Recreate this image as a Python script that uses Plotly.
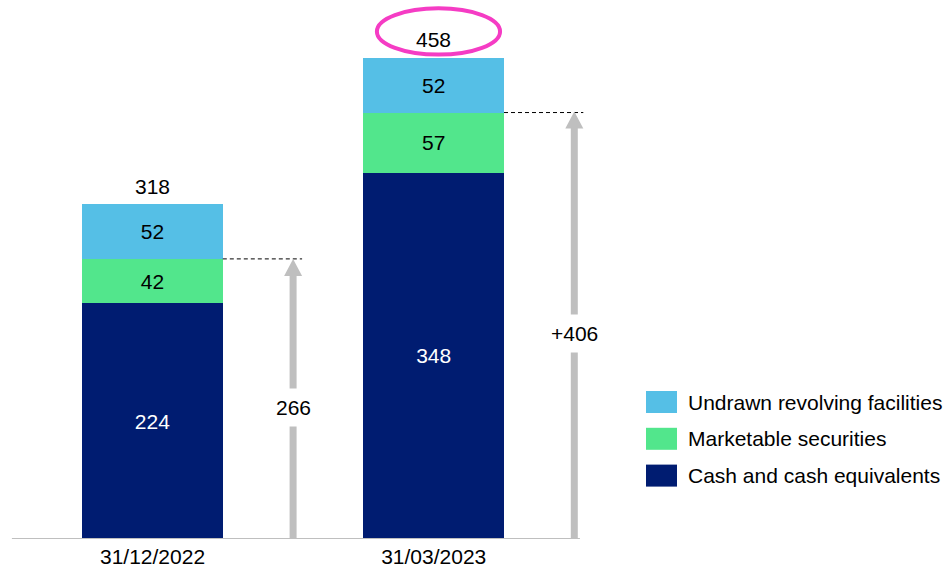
import plotly.graph_objects as go

# ---- data -------------------------------------------------------------
dates = ["31/12/2022", "31/03/2023"]
cash = [224, 348]            # Cash and cash equivalents
securities = [42, 57]        # Marketable securities
undrawn = [52, 52]           # Undrawn revolving facilities
totals = ["318", "458"]      # reported total liquidity
liquidity = [266, 406]       # cash + securities
liquidity_labels = ["266", "+406"]

series_names = ["Cash and cash equivalents", "Marketable securities",
                "Undrawn revolving facilities"]

# ---- style ------------------------------------------------------------
NAVY = "#001C71"
GREEN = "#52E68C"
SKY = "#55BFE6"
GREY = "#BFBFBF"
PINK = "#F53CC4"
FONT = "Arial, Liberation Sans, sans-serif"
FS = 21

W, H = 950, 570
BOTTOM = 31                      # room for the date labels
PLOT_H = H - BOTTOM
PX_PER_UNIT = 1.053              # vertical scale (px per unit)
PX_PER_CAT = 281.2               # horizontal distance between dates
FIRST_CENTER_PX = 152.5

x_pos = list(range(len(dates)))
x_range = [-FIRST_CENTER_PX / PX_PER_CAT, (W - FIRST_CENTER_PX) / PX_PER_CAT]
y_range = [0, PLOT_H / PX_PER_UNIT]

def px_x(px):
    return px / PX_PER_CAT

def px_y(px):
    return px / PX_PER_UNIT

fig = go.Figure()

for vals, name, color, txt in [
    (cash, series_names[0], NAVY, "white"),
    (securities, series_names[1], GREEN, "black"),
    (undrawn, series_names[2], SKY, "black"),
]:
    fig.add_trace(go.Bar(
        x=x_pos, y=vals, name=name, width=0.5,
        marker=dict(color=color, line=dict(width=0)),
        text=[str(v) for v in vals], textposition="inside",
        insidetextanchor="middle", textangle=0,
        textfont=dict(family=FONT, size=FS, color=txt),
        hoverinfo="skip", showlegend=False,
    ))

shapes = []
annotations = []

# baseline
shapes.append(dict(type="line", xref="x", yref="y", x0=-0.5, x1=1.52, y0=0, y1=0,
                   line=dict(color=GREY, width=2)))

head_w = px_x(9)
head_h = px_y(17)
for i in x_pos:
    stack_mid = cash[i] + securities[i]
    stack_top = stack_mid + undrawn[i]
    ax = i + 0.5
    # dashed guide from bar to arrow
    shapes.append(dict(type="line", xref="x", yref="y",
                       x0=i + 0.25, x1=ax + px_x(9), y0=stack_mid, y1=stack_mid,
                       line=dict(color="black", width=1, dash="4px,3px")))
    # arrow shaft
    shaft_top = liquidity[i] - head_h
    shapes.append(dict(type="line", xref="x", yref="y",
                       x0=ax, x1=ax, y0=0, y1=shaft_top + 1,
                       line=dict(color=GREY, width=7)))
    # arrow head
    tip = liquidity[i]
    shapes.append(dict(type="path", xref="x", yref="y",
                       path=f"M {ax - head_w} {shaft_top} L {ax + head_w} {shaft_top} L {ax} {tip} Z",
                       fillcolor=GREY, line=dict(width=0)))
    # arrow label, centred on the shaft
    annotations.append(dict(x=ax, y=shaft_top / 2, xref="x", yref="y",
                            text=liquidity_labels[i], showarrow=False,
                            bgcolor="white", borderpad=7,
                            font=dict(family=FONT, size=FS, color="black")))
    # total label
    annotations.append(dict(x=i, y=stack_top, xref="x", yref="y",
                            text=totals[i], showarrow=False, yanchor="middle",
                            yshift=18, font=dict(family=FONT, size=FS, color="black")))

# highlight ring around the latest total
last = len(dates) - 1
last_top = cash[last] + securities[last] + undrawn[last]
shapes.append(dict(type="circle", xref="x", yref="y",
                   x0=last - 0.202, x1=last + 0.236,
                   y0=last_top + 3, y1=last_top + 47,
                   line=dict(color=PINK, width=4)))

# legend
legend_rows = [(series_names[2], SKY), (series_names[1], GREEN), (series_names[0], NAVY)]
for k, (name, color) in enumerate(legend_rows):
    cy = 402 + k * 36.8
    shapes.append(dict(type="rect", xref="paper", yref="paper",
                       x0=646 / W, x1=677 / W,
                       y0=(PLOT_H - (cy + 11)) / PLOT_H, y1=(PLOT_H - (cy - 11)) / PLOT_H,
                       fillcolor=color, line=dict(width=0)))
    annotations.append(dict(x=686 / W, y=(PLOT_H - cy) / PLOT_H, xref="paper", yref="paper",
                            text=name, showarrow=False, xanchor="left", yanchor="middle",
                            font=dict(family=FONT, size=FS, color="black")))

fig.update_layout(
    width=W, height=H, barmode="stack",
    margin=dict(l=0, r=0, t=0, b=BOTTOM),
    plot_bgcolor="white", paper_bgcolor="white",
    shapes=shapes, annotations=annotations,
    xaxis=dict(range=x_range, tickvals=x_pos, ticktext=dates, showgrid=False,
               zeroline=False, showline=False, ticks="", ticklabelstandoff=3,
               tickfont=dict(family=FONT, size=FS, color="black")),
    yaxis=dict(range=y_range, visible=False, showgrid=False, zeroline=False),
)

fig.write_html("out.html")
